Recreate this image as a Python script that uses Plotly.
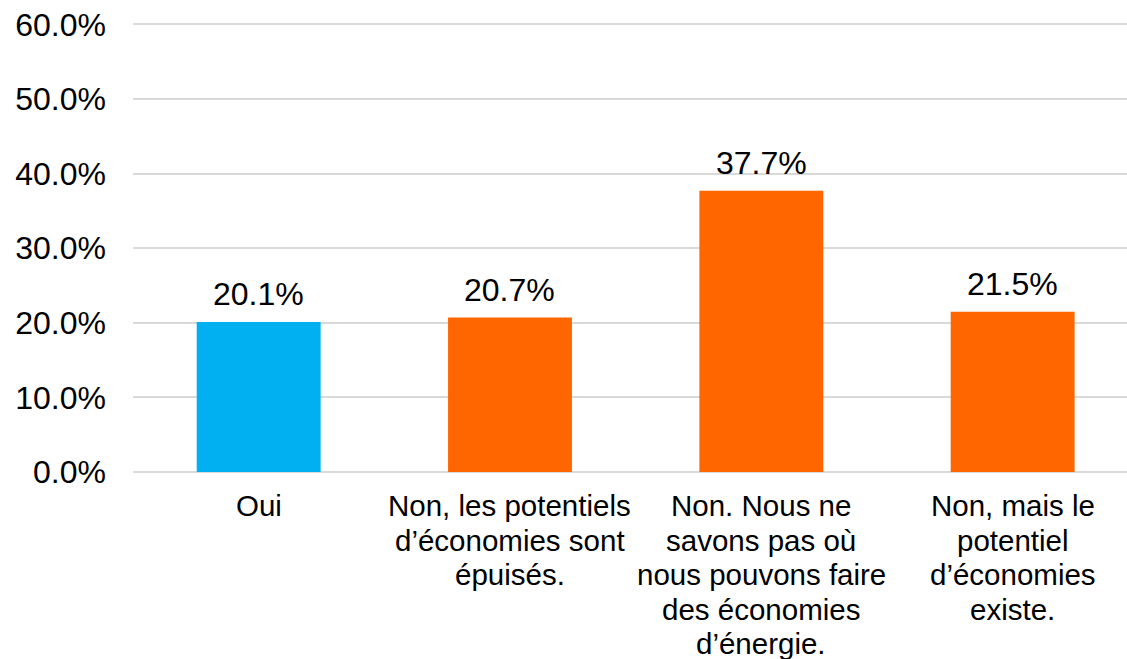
import plotly.graph_objects as go

categories = [
    "Oui",
    "Non, les potentiels<br>d’économies sont<br>épuisés.",
    "Non. Nous ne<br>savons pas où<br>nous pouvons faire<br>des économies<br>d’énergie.",
    "Non, mais le<br>potentiel<br>d’économies<br>existe.",
]
values = [0.201, 0.207, 0.377, 0.215]
value_labels = ["20.1%", "20.7%", "37.7%", "21.5%"]
bar_colors = ["#00B0F0", "#FF6600", "#FF6600", "#FF6600"]
y_ticks = [0, 0.1, 0.2, 0.3, 0.4, 0.5, 0.6]
y_tick_labels = ["0.0%", "10.0%", "20.0%", "30.0%", "40.0%", "50.0%", "60.0%"]

FONT = "Liberation Sans, Arial, sans-serif"
FS_NUM = 32
FS_CAT = 29.5
LINE_H = 34.5

xs = list(range(len(categories)))

fig = go.Figure()
fig.add_trace(go.Bar(
    x=xs, y=values, marker=dict(color=bar_colors, line=dict(width=0)),
    width=0.493, hoverinfo="skip",
))

annotations = []
for x, v, t in zip(xs, values, value_labels):
    annotations.append(dict(
        x=x, y=v, xref="x", yref="y", text=t, showarrow=False,
        yanchor="bottom", xanchor="center", yshift=8,
        font=dict(family=FONT, size=FS_NUM, color="#000000"),
    ))
for x, cat in zip(xs, categories):
    for j, line in enumerate(cat.split("<br>")):
        annotations.append(dict(
            x=x, y=0, xref="x", yref="y", text=line, showarrow=False,
            yanchor="top", xanchor="center", yshift=-(15 + j * LINE_H),
            font=dict(family=FONT, size=FS_CAT, color="#000000"),
        ))

fig.update_layout(
    width=1127, height=659,
    margin=dict(l=133, r=0, t=23, b=187, pad=0),
    paper_bgcolor="white", plot_bgcolor="white",
    showlegend=False,
    font=dict(family=FONT, size=FS_NUM, color="#000000"),
    annotations=annotations,
    xaxis=dict(
        range=[-0.5, 3.455], showticklabels=False, showgrid=False,
        zeroline=False, showline=False, ticks="", fixedrange=True,
    ),
    yaxis=dict(
        range=[0, 0.602], tickvals=y_ticks, ticktext=y_tick_labels,
        showgrid=True, gridcolor="#D9D9D9", gridwidth=1.5,
        zeroline=True, zerolinecolor="#D9D9D9", zerolinewidth=1.5,
        showline=False, ticks="", ticklabelstandoff=26,
        tickfont=dict(family=FONT, size=FS_NUM, color="#000000"),
        fixedrange=True,
    ),
)

fig.write_html(
    "out.html",
    config={"displayModeBar": False},
    post_script="document.body.style.margin='0';document.body.style.overflow='hidden';",
)
